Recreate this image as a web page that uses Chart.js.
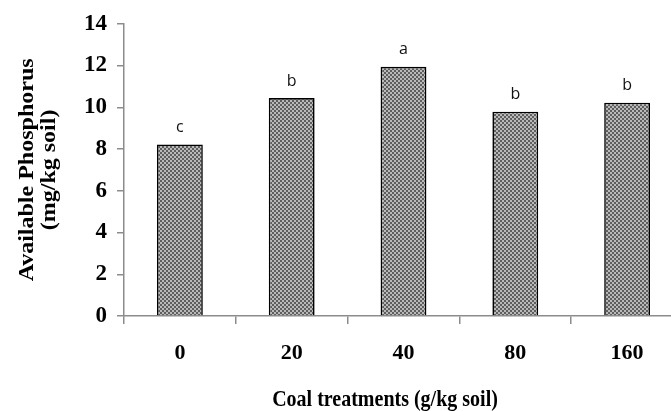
<!DOCTYPE html>
<html>
<head>
<meta charset="utf-8">
<script src="https://cdn.jsdelivr.net/npm/chart.js@4"></script>
<style>
  html, body { margin: 0; padding: 0; background: #fff; overflow: hidden; }
  #wrap { width: 700px; height: 411px; }
</style>
</head>
<body>
<div id="wrap"><canvas id="c" width="700" height="411"></canvas></div>
<script>
// Coal treatment levels (g/kg soil)
const categories = ['0', '20', '40', '80', '160'];
// Available phosphorus (mg/kg soil)
const phosphorus = [8.22, 10.44, 11.94, 9.79, 10.22];
// Significance letters above each bar
const letters = ['c', 'b', 'a', 'b', 'b'];
// Y axis range and step
const yMin = 0, yMax = 14, yStep = 2;

const yTitle = ['Available Phosphorus', '(mg/kg soil)'];
const xTitle = 'Coal treatments (g/kg soil)';

// Fine checkered fill for the bars
function checkerPattern() {
  const p = document.createElement('canvas');
  p.width = 4; p.height = 4;
  const g = p.getContext('2d');
  g.fillStyle = '#b9b9b9';
  g.fillRect(0, 0, 4, 4);
  g.fillStyle = '#5e5e5e';
  g.fillRect(0, 0, 2, 2);
  g.fillRect(2, 2, 2, 2);
  return g.createPattern(p, 'repeat');
}

const serif = '"Liberation Serif", "Times New Roman", serif';

// Letters above bars and the two axis titles (set in a tall serif)
const annotations = {
  id: 'annotations',
  afterDatasetsDraw(chart) {
    const ctx = chart.ctx;
    const meta = chart.getDatasetMeta(0);
    ctx.save();
    ctx.fillStyle = '#111';
    ctx.font = '16px "Open Sans", "Liberation Sans", sans-serif';
    ctx.textAlign = 'center';
    ctx.textBaseline = 'bottom';
    meta.data.forEach((bar, i) => {
      ctx.fillText(letters[i], bar.x, bar.y - 9);
    });

    ctx.fillStyle = '#000';
    ctx.font = 'bold 20px ' + serif;
    ctx.textBaseline = 'middle';
    const area = chart.chartArea;
    const midY = (area.top + area.bottom) / 2;
    [[28, yTitle[0]], [50, yTitle[1]]].forEach(([x, t]) => {
      ctx.save();
      ctx.translate(x, midY);
      ctx.rotate(-Math.PI / 2);
      ctx.scale(1.2, 1);
      ctx.fillText(t, 0, 0);
      ctx.restore();
    });

    ctx.save();
    ctx.translate(385, 400);
    ctx.scale(1, 1.2);
    ctx.fillText(xTitle, 0, 0);
    ctx.restore();
    ctx.restore();
  }
};

new Chart(document.getElementById('c'), {
  type: 'bar',
  data: {
    labels: categories,
    datasets: [{
      data: phosphorus,
      backgroundColor: checkerPattern(),
      borderColor: '#000',
      borderWidth: 1.6,
      barPercentage: 0.41,
      categoryPercentage: 1.0
    }]
  },
  options: {
    responsive: false,
    animation: false,
    layout: { padding: { top: 21, right: 17, bottom: 0, left: 0 } },
    plugins: { legend: { display: false }, tooltip: { enabled: false } },
    scales: {
      x: {
        offset: true,
        grid: {
          offset: true,
          drawOnChartArea: false,
          drawTicks: true,
          tickLength: 8,
          color: '#8c8c8c',
          lineWidth: 1.5
        },
        border: { color: '#8c8c8c', width: 1.5 },
        ticks: { color: '#000', font: { family: serif, size: 22, weight: 'bold' }, padding: 16 },
        afterFit(scale) { scale.height = 95; }
      },
      y: {
        min: yMin,
        max: yMax,
        grid: {
          drawOnChartArea: false,
          drawTicks: true,
          tickLength: 7,
          color: '#8c8c8c',
          lineWidth: 1.5
        },
        border: { color: '#8c8c8c', width: 1.5 },
        ticks: { stepSize: yStep, color: '#000', font: { family: serif, size: 23, weight: 'bold' }, padding: 10 },
        afterFit(scale) { scale.width = 124; }
      }
    }
  },
  plugins: [annotations]
});
</script>
</body>
</html>
